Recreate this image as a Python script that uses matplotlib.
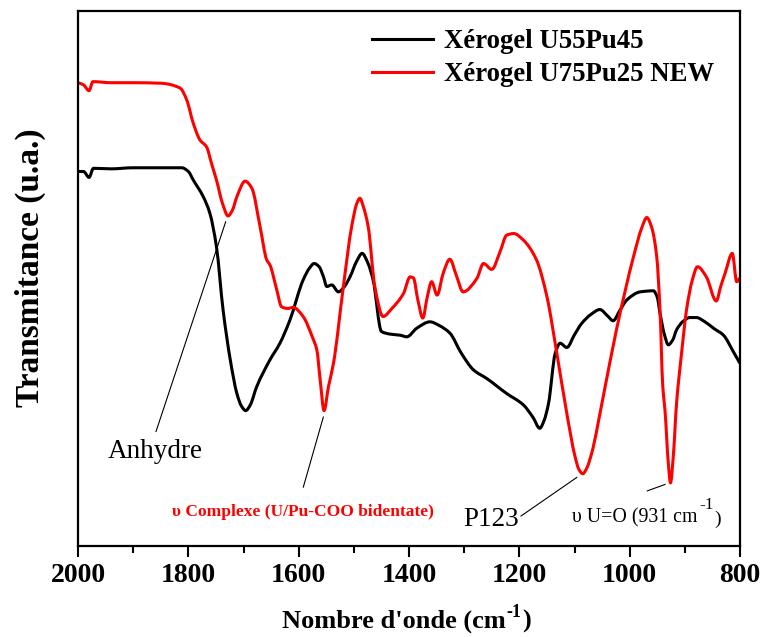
import matplotlib
matplotlib.use("Agg")
import numpy as np
import matplotlib.pyplot as plt
from matplotlib.ticker import MultipleLocator
from matplotlib.path import Path
from matplotlib.patches import PathPatch
from matplotlib.lines import Line2D

plt.rcParams['font.family'] = ['Liberation Serif', 'DejaVu Serif']

# ---- data (wavenumber cm-1, transmittance a.u.) ----
wn_black = [2000, 1990, 1980, 1972, 1940, 1900, 1850, 1812, 1800, 1791, 1773, 1761,
            1749, 1737, 1724, 1712, 1704, 1696, 1688, 1676, 1652, 1634, 1616, 1592,
            1580, 1572, 1563, 1555, 1549, 1540, 1528, 1517, 1507, 1495, 1485, 1475,
            1465, 1450, 1434, 1416, 1404, 1386, 1362, 1345, 1326, 1305, 1283, 1259,
            1223, 1193, 1175, 1163, 1155, 1147, 1135, 1126, 1114, 1100, 1087, 1070,
            1054, 1040, 1030, 1018, 1005, 981, 957, 950, 945, 937, 930, 922, 915,
            903, 891, 879, 865, 848, 830, 812, 801]
t_black = [70.0, 70.0, 68.9, 70.6, 70.5, 70.7, 70.7, 70.7, 70.0, 68.4, 65.3, 62.2,
           55.9, 44.1, 34.8, 28.5, 26.2, 25.3, 26.3, 29.8, 34.8, 37.9, 42.2, 49.7,
           52.0, 52.8, 52.2, 50.3, 48.5, 48.8, 47.5, 48.5, 50.3, 53.2, 54.7, 53.0,
           49.7, 40.1, 39.6, 39.4, 39.1, 40.7, 41.9, 41.2, 39.8, 36.0, 32.9, 31.3,
           28.5, 26.4, 24.0, 22.0, 23.5, 26.7, 36.0, 37.9, 37.1, 39.5, 41.6, 43.3,
           44.2, 43.0, 42.1, 44.0, 46.0, 47.5, 47.7, 46.5, 43.5, 39.5, 37.6, 38.5,
           40.4, 42.0, 42.7, 42.7, 42.0, 40.7, 39.4, 36.3, 34.3]

wn_red = [2000, 1990, 1980, 1973, 1940, 1900, 1850, 1815, 1803, 1791, 1779, 1767,
          1758, 1749, 1738, 1728, 1720, 1712, 1697, 1685, 1670, 1658, 1652, 1640,
          1631, 1620, 1610, 1592, 1575, 1567, 1561, 1554, 1546, 1537, 1519, 1504,
          1494, 1489, 1483, 1474, 1462, 1447, 1431, 1410, 1398, 1392, 1384, 1375,
          1367, 1359, 1349, 1338, 1326, 1314, 1302, 1277, 1265, 1250, 1235, 1223,
          1210, 1193, 1169, 1150, 1132, 1114, 1099, 1092, 1085, 1078, 1069, 1048,
          1024, 993, 978, 969, 960, 951, 945, 940, 936, 930, 926, 921, 915, 906,
          897, 887, 877, 861, 843, 835, 827, 814, 806, 801]
t_red = [86.6, 86.2, 85.1, 86.8, 86.6, 86.6, 86.5, 85.6, 83.4, 79.0, 75.9, 74.6,
         71.5, 68.4, 64.0, 61.7, 62.8, 65.3, 68.2, 66.9, 59.7, 53.5, 52.5, 48.0,
         44.7, 44.4, 44.6, 42.9, 39.0, 36.6, 31.0, 25.3, 29.8, 34.1, 48.5, 59.7,
         64.2, 65.0, 63.5, 59.7, 48.5, 42.9, 44.4, 47.2, 50.3, 50.1, 46.0, 42.6,
         46.5, 49.4, 46.9, 51.0, 53.6, 50.5, 47.5, 50.0, 52.8, 51.7, 55.0, 58.1,
         58.4, 57.2, 53.5, 46.6, 36.0, 24.8, 16.7, 14.3, 13.5, 14.5, 17.3, 27.9,
         40.4, 54.1, 59.5, 61.4, 59.5, 54.1, 44.0, 29.8, 25.4, 15.5, 11.8, 16.7,
         26.7, 36.0, 44.1, 49.5, 52.2, 50.3, 45.8, 48.5, 51.0, 54.7, 49.4, 50.0]

labels = ["Xérogel U55Pu45", "Xérogel U75Pu25 NEW"]
colors = ['black', '#ff0000']
x_ticks = [2000, 1800, 1600, 1400, 1200, 1000, 800]


def smooth_path(xs, ys):
    """Cubic Bezier path through the read points (shape-preserving slopes)."""
    x = np.asarray(xs, float)
    y = np.asarray(ys, float)
    h = np.diff(x)
    d = np.diff(y) / h
    m = np.zeros_like(y)
    for i in range(1, len(y) - 1):
        if d[i - 1] * d[i] > 0:
            w1 = 2 * h[i] + h[i - 1]
            w2 = h[i] + 2 * h[i - 1]
            m[i] = (w1 + w2) / (w1 / d[i - 1] + w2 / d[i])
    m[0] = d[0]
    m[-1] = d[-1]
    verts = [(x[0], y[0])]
    codes = [Path.MOVETO]
    for i in range(len(x) - 1):
        verts += [(x[i] + h[i] / 3, y[i] + m[i] * h[i] / 3),
                  (x[i + 1] - h[i] / 3, y[i + 1] - m[i + 1] * h[i] / 3),
                  (x[i + 1], y[i + 1])]
        codes += [Path.CURVE4] * 3
    return Path(verts, codes)


fig = plt.figure(figsize=(7.64, 6.37), dpi=100)
ax = fig.add_axes([0.1021, 0.1429, 0.8665, 0.8398])

for xs, ys, c in [(wn_black, t_black, colors[0]), (wn_red, t_red, colors[1])]:
    ax.add_patch(PathPatch(smooth_path(xs, ys), fill=False, edgecolor=c, lw=2.2,
                           joinstyle='round', capstyle='round'))

ax.set_xlim(2000, 800)
ax.set_ylim(0, 100)
ax.set_xticks(x_ticks)
ax.xaxis.set_minor_locator(MultipleLocator(100))
ax.set_yticks([])
ax.tick_params(axis='x', which='major', direction='out', length=8, width=1.5,
               labelsize=20, pad=4.5)
ax.tick_params(axis='x', which='minor', direction='out', length=4.8, width=1.5)
for lab in ax.get_xticklabels():
    lab.set_fontweight('bold')
for sp in ax.spines.values():
    sp.set_linewidth(1.6)

# x label with raised "-1"
xl1 = ax.text(0.308, -0.153, "Nombre d'onde (cm", transform=ax.transAxes,
              fontsize=19, fontweight='bold', ha='left', va='baseline')
xl2 = ax.annotate("-1", xy=(1, 0), xycoords=xl1, xytext=(0.5, 9), textcoords='offset points',
                  fontsize=13, fontweight='bold', ha='left', va='bottom')
ax.annotate(")", xy=(1, 0), xycoords=xl2, xytext=(0.5, -9), textcoords='offset points',
            fontsize=19, fontweight='bold', ha='left', va='bottom')

ax.set_ylabel("Transmitance (u.a.)", fontsize=24, fontweight='bold')
ax.yaxis.set_label_coords(-0.049, 0.521)

handles = [Line2D([], [], color=c, lw=2.2) for c in colors]
ax.legend(handles, labels, loc='upper left', bbox_to_anchor=(0.4437, 0.966), frameon=False,
          borderaxespad=0, borderpad=0, handlelength=2.3, handletextpad=0.38,
          labelspacing=0.30, prop={'family': 'Liberation Serif', 'weight': 'bold', 'size': 19.3})

# annotations
ax.plot([1858.6, 1732.3], [21.4, 60.6], color='black', lw=0.8)
ax.text(1860.4, 16.4, "Anhydre", fontsize=19.5, ha='center', va='baseline')

ax.plot([1591.6, 1555.3], [11.0, 24.1], color='black', lw=0.8)
ax.text(1593, 5.6, "υ Complexe (U/Pu-COO bidentate)", fontsize=12.5, fontweight='bold',
        color='#ff0000', ha='center', va='baseline')

ax.plot([1197, 1096], [5.6, 12.8], color='black', lw=0.8)
ax.text(1302.1, 3.7, "P123", fontsize=19.5, ha='left', va='baseline')

ax.plot([968.0, 935.9], [10.3, 11.5], color='black', lw=0.8)
t1 = ax.text(1104.5, 4.3, "υ U=O (931 cm", fontsize=14.3, ha='left', va='baseline')
t2 = ax.annotate("-1", xy=(1, 0), xycoords=t1, xytext=(1, 11), textcoords='offset points',
                 fontsize=12.5, ha='left', va='bottom')
ax.annotate(")", xy=(1, 0), xycoords=t2, xytext=(1, -11), textcoords='offset points',
            fontsize=14, ha='left', va='bottom')

fig.savefig("out.png", dpi=100)
